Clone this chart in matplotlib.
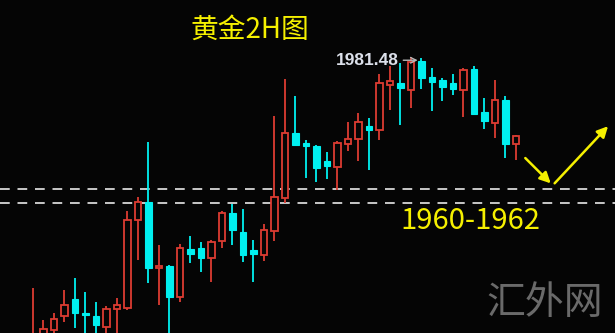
import matplotlib
matplotlib.use("Agg")
import matplotlib.pyplot as plt
from matplotlib.patches import Rectangle

plt.rcParams['font.family'] = ['Noto Sans CJK SC', 'DejaVu Sans']

"""Data: 2H gold candles (open, high, low, close)"""
opens = [1939.1, 1939.9, 1941.3, 1943.4, 1945.9, 1943.8, 1943.4, 1941.8, 1944.4, 1944.6,
         1957.5, 1960.2, 1950.4, 1950.7, 1946.2, 1953.2, 1953.4, 1951.9, 1954.4, 1958.5,
         1955.7, 1953.1, 1952.4, 1955.9, 1960.7, 1970.3, 1968.8, 1968.4, 1966.2, 1965.3,
         1968.7, 1969.4, 1971.3, 1970.7, 1977.4, 1977.7, 1976.6, 1980.9, 1978.5, 1978.1,
         1977.7, 1976.6, 1979.7, 1973.4, 1971.8, 1975.2, 1968.7]
highs = [1947.5, 1942.8, 1943.8, 1947.2, 1949.0, 1946.9, 1945.4, 1944.9, 1946.0, 1958.8,
         1960.9, 1969.0, 1953.8, 1950.9, 1954.0, 1955.2, 1954.3, 1954.6, 1958.8, 1959.9,
         1959.1, 1954.6, 1956.9, 1972.8, 1978.2, 1975.7, 1969.3, 1968.5, 1967.5, 1969.1,
         1971.9, 1973.2, 1972.5, 1979.0, 1980.2, 1980.6, 1981.48, 1981.3, 1979.9, 1978.4,
         1979.0, 1979.9, 1980.2, 1975.5, 1978.1, 1975.7, 1970.0]
lows = [1938.4, 1939.1, 1940.6, 1942.5, 1941.6, 1939.9, 1940.1, 1940.1, 1939.9, 1944.3,
        1951.6, 1948.2, 1945.0, 1939.9, 1945.4, 1951.2, 1949.9, 1948.4, 1953.4, 1953.8,
        1951.3, 1948.4, 1951.5, 1954.4, 1960.0, 1968.4, 1963.7, 1963.1, 1963.5, 1961.9,
        1967.7, 1966.2, 1964.9, 1969.3, 1973.7, 1971.5, 1974.0, 1976.8, 1973.5, 1975.0,
        1975.9, 1972.7, 1972.9, 1970.9, 1969.6, 1966.6, 1966.3]
closes = [1940.6, 1941.5, 1942.9, 1945.0, 1943.8, 1943.5, 1942.1, 1944.4, 1945.0, 1957.5,
          1960.2, 1950.4, 1950.7, 1946.2, 1953.4, 1952.5, 1951.9, 1954.3, 1958.5, 1956.0,
          1952.4, 1952.5, 1956.0, 1960.9, 1970.3, 1968.5, 1968.4, 1965.2, 1965.4, 1968.8,
          1969.4, 1971.9, 1970.7, 1977.7, 1978.0, 1976.9, 1980.7, 1978.4, 1977.8, 1977.1,
          1976.8, 1979.6, 1973.1, 1972.1, 1975.2, 1968.7, 1969.9]

support_levels = [1962.0, 1960.0]
high_label = "1981.48"
path_x = [46.7, 49.5, 54.95]      # projected move, in bar units
path_y = [1966.9, 1962.6, 1971.6]

RED = "#dc3c32"
CYAN = "#00f0f0"

fig = plt.figure(figsize=(6.15, 3.33), dpi=100, facecolor="#050505")
ax = fig.add_axes([0, 0, 1, 1])
ax.set_facecolor("#050505")
ax.set_xlim(-3.14, 55.43)
ax.set_ylim(1940.88, 1989.86)
ax.axis("off")

w = 0.64
for i in range(len(opens)):
    o, h, l, c = opens[i], highs[i], lows[i], closes[i]
    up = c >= o
    col = RED if up else CYAN
    lo, hi = min(o, c), max(o, c)
    ax.plot([i, i], [l, lo], color=col, lw=1.3, zorder=2, solid_capstyle="butt")
    ax.plot([i, i], [hi, h], color=col, lw=1.3, zorder=2, solid_capstyle="butt")
    body_h = max(hi - lo, 0.25)
    if up:
        ax.add_patch(Rectangle((i - w / 2, lo), w, body_h, facecolor="#050505",
                               edgecolor=col, lw=1.3, zorder=3))
    else:
        ax.add_patch(Rectangle((i - w / 2, lo), w, body_h, facecolor=col,
                               edgecolor=col, lw=0.8, zorder=3))

# support zone
for lvl in support_levels:
    ax.axhline(lvl, color="#c8c8c8", lw=1.4, dashes=(5, 4), zorder=1)

# high marker
ax.text(34.8, 1981.0, high_label, color="#dce0ea", fontsize=12.5, fontweight="bold",
        family="Liberation Sans", ha="right", va="center")
ax.annotate("", xy=(36.9, 1981.0), xytext=(35.0, 1981.0),
            arrowprops=dict(arrowstyle="->", color="#b8b8b8", lw=1.0))

# projected path
ax.annotate("", xy=(path_x[1], path_y[1]), xytext=(path_x[0], path_y[0]),
            arrowprops=dict(arrowstyle="-|>", color="#f5f000", lw=1.8, mutation_scale=16))
ax.annotate("", xy=(path_x[2], path_y[2]), xytext=(path_x[1], path_y[1]),
            arrowprops=dict(arrowstyle="-|>", color="#f5f000", lw=1.8, mutation_scale=16))

# texts
fig.text(0.407, 0.91, "黄金2H图", color="#f5f000", fontsize=20, ha="center", va="center")
fig.text(0.765, 0.335, "1960-1962", color="#f5f000", fontsize=21, ha="center", va="center")
fig.text(0.885, 0.09, "汇外网", color="#6a6a6a", fontsize=28, ha="center", va="center")

fig.savefig("out.png", dpi=100, facecolor=fig.get_facecolor())
